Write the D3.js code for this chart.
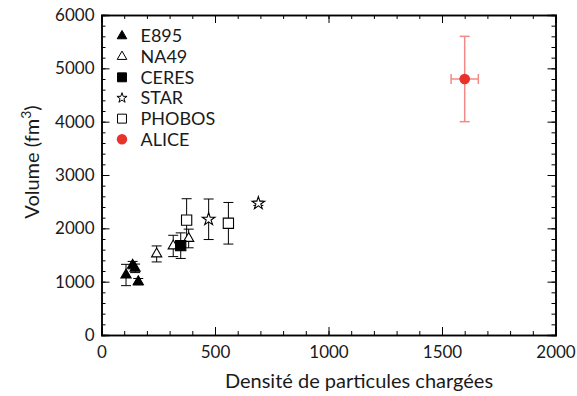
<!DOCTYPE html>
<html>
<head>
<meta charset="utf-8">
<script src="https://cdn.jsdelivr.net/npm/d3@7"></script>
<style>
  body { margin: 0; background: #fff; }
  text { font-family: "Lato", "Open Sans", sans-serif; fill: #1a1a1a; }
  .axis path, .axis line { stroke: #000; }
</style>
</head>
<body>
<svg id="chart" width="577" height="396"></svg>
<script>
"use strict";

// data: [density, volume, volume error, density error]
var e895 = [[108, 1125, 200, 0], [137, 1310, 70, 0], [148, 1250, 80, 0], [162, 1000, 60, 0]];
var na49 = [[243, 1520, 150, 0], [316, 1670, 200, 0], [384, 1810, 175, 0]];
var ceres = [[349, 1675, 240, 0]];
var star = [[472, 2170, 380, 0], [691, 2470, 40, 0]];
var phobos = [[375, 2155, 400, 0], [559, 2095, 390, 0]];
var alice = [[1600, 4800, 800, 60]];

var xTicks = [0, 500, 1000, 1500, 2000];
var yTicks = [0, 1000, 2000, 3000, 4000, 5000, 6000];

var series = [
    { name: 'E895', data: e895, shape: 'triangle', fill: '#000', color: '#000' },
    { name: 'NA49', data: na49, shape: 'triangle', fill: '#fff', color: '#000' },
    { name: 'CERES', data: ceres, shape: 'square', fill: '#000', color: '#000' },
    { name: 'STAR', data: star, shape: 'star', fill: '#fff', color: '#000' },
    { name: 'PHOBOS', data: phobos, shape: 'square', fill: '#fff', color: '#000' },
    { name: 'ALICE', data: alice, shape: 'circle', fill: '#e8322c', color: '#e8322c' }
];

var svg = d3.select('#chart');
var margin = { top: 15, right: 21.5, bottom: 61, left: 101.5 };
var width = 577 - margin.left - margin.right;
var height = 396 - margin.top - margin.bottom;

var g = svg.append('g')
    .attr('transform', 'translate(' + margin.left + ',' + margin.top + ')');

var x = d3.scaleLinear().domain([0, 2000]).range([0, width]);
var y = d3.scaleLinear().domain([0, 6000]).range([height, 0]);

var xMinor = d3.range(0, 2001, 100);
var yMinor = d3.range(0, 6001, 200);

function noLabel() { return ''; }

// minor ticks on all four sides
g.append('g').attr('class', 'axis').attr('transform', 'translate(0,' + height + ')')
    .call(d3.axisBottom(x).tickValues(xMinor).tickSize(-4).tickFormat(noLabel));
g.append('g').attr('class', 'axis')
    .call(d3.axisTop(x).tickValues(xMinor).tickSize(-4).tickFormat(noLabel));
g.append('g').attr('class', 'axis')
    .call(d3.axisLeft(y).tickValues(yMinor).tickSize(-4).tickFormat(noLabel));
g.append('g').attr('class', 'axis').attr('transform', 'translate(' + width + ',0)')
    .call(d3.axisRight(y).tickValues(yMinor).tickSize(-4).tickFormat(noLabel));

// major ticks
var gX = g.append('g').attr('class', 'axis').attr('transform', 'translate(0,' + height + ')')
    .call(d3.axisBottom(x).tickValues(xTicks).tickSize(-8).tickPadding(8).tickFormat(d3.format('d')));
g.append('g').attr('class', 'axis')
    .call(d3.axisTop(x).tickValues(xTicks).tickSize(-8).tickFormat(noLabel));
var gY = g.append('g').attr('class', 'axis')
    .call(d3.axisLeft(y).tickValues(yTicks).tickSize(-8).tickPadding(8).tickFormat(d3.format('d')));
g.append('g').attr('class', 'axis').attr('transform', 'translate(' + width + ',0)')
    .call(d3.axisRight(y).tickValues(yTicks).tickSize(-8).tickFormat(noLabel));

g.selectAll('.axis path').attr('stroke-width', 1.5);
g.selectAll('.axis text').style('font-size', '17px').attr('fill', '#1a1a1a');
gX.selectAll('text').attr('dy', '0.9em');
gY.selectAll('text').attr('dx', '1px');

// axis titles
svg.append('text')
    .attr('x', 359)
    .attr('y', 388)
    .attr('text-anchor', 'middle')
    .style('font-size', '20px')
    .text('Densité de particules chargées');

var yTitle = svg.append('text')
    .attr('transform', 'translate(39,162) rotate(-90)')
    .attr('text-anchor', 'middle')
    .style('font-size', '20px');
yTitle.append('tspan').text('Volume (fm');
yTitle.append('tspan').attr('dy', -8).style('font-size', '14px').text('3');
yTitle.append('tspan').attr('dy', 8).text(')');

var shapes = {
    triangle: d3.symbol().type(d3.symbolTriangle).size(45),
    square: d3.symbol().type(d3.symbolSquare).size(105),
    star: d3.symbol().type(d3.symbolStar).size(50),
    circle: d3.symbol().type(d3.symbolCircle).size(90)
};
var legendShapes = {
    triangle: d3.symbol().type(d3.symbolTriangle).size(40),
    square: d3.symbol().type(d3.symbolSquare).size(80),
    star: d3.symbol().type(d3.symbolStar).size(32),
    circle: d3.symbol().type(d3.symbolCircle).size(85)
};

// error bars
series.forEach(function (s) {
    var eg = g.append('g')
        .attr('stroke', s.name === 'ALICE' ? '#f28a87' : '#000')
        .attr('stroke-width', s.name === 'ALICE' ? 1.5 : 1);
    s.data.forEach(function (d) {
        var cx = x(d[0]);
        if (d[2] > 0) {
            eg.append('line').attr('x1', cx).attr('x2', cx)
                .attr('y1', y(d[1] - d[2])).attr('y2', y(d[1] + d[2]));
            eg.append('line').attr('x1', cx - 5).attr('x2', cx + 5)
                .attr('y1', y(d[1] - d[2])).attr('y2', y(d[1] - d[2]));
            eg.append('line').attr('x1', cx - 5).attr('x2', cx + 5)
                .attr('y1', y(d[1] + d[2])).attr('y2', y(d[1] + d[2]));
        }
        if (d[3] > 0) {
            var cy = y(d[1]);
            eg.append('line').attr('y1', cy).attr('y2', cy)
                .attr('x1', x(d[0] - d[3])).attr('x2', x(d[0] + d[3]));
            eg.append('line').attr('y1', cy - 5).attr('y2', cy + 5)
                .attr('x1', x(d[0] - d[3])).attr('x2', x(d[0] - d[3]));
            eg.append('line').attr('y1', cy - 5).attr('y2', cy + 5)
                .attr('x1', x(d[0] + d[3])).attr('x2', x(d[0] + d[3]));
        }
    });
});

// markers
series.forEach(function (s) {
    g.selectAll(null).data(s.data).enter().append('path')
        .attr('d', shapes[s.shape])
        .attr('transform', function (d) {
            return 'translate(' + x(d[0]) + ',' + y(d[1]) + ')';
        })
        .attr('fill', s.fill)
        .attr('stroke', s.color)
        .attr('stroke-width', s.shape === 'circle' ? 0 : 1.1);
});

// legend
var legendG = svg.append('g').attr('transform', 'translate(122,36)');
series.forEach(function (s, i) {
    var lg = legendG.append('g').attr('transform', 'translate(0,' + (i * 20.66) + ')');
    lg.append('path').attr('d', legendShapes[s.shape])
        .attr('fill', s.fill)
        .attr('stroke', s.color)
        .attr('stroke-width', s.shape === 'circle' ? 0 : 1);
    lg.append('text')
        .attr('x', 18.5)
        .attr('dy', '0.36em')
        .style('font-size', '18px')
        .text(s.name);
});
</script>
</body>
</html>
